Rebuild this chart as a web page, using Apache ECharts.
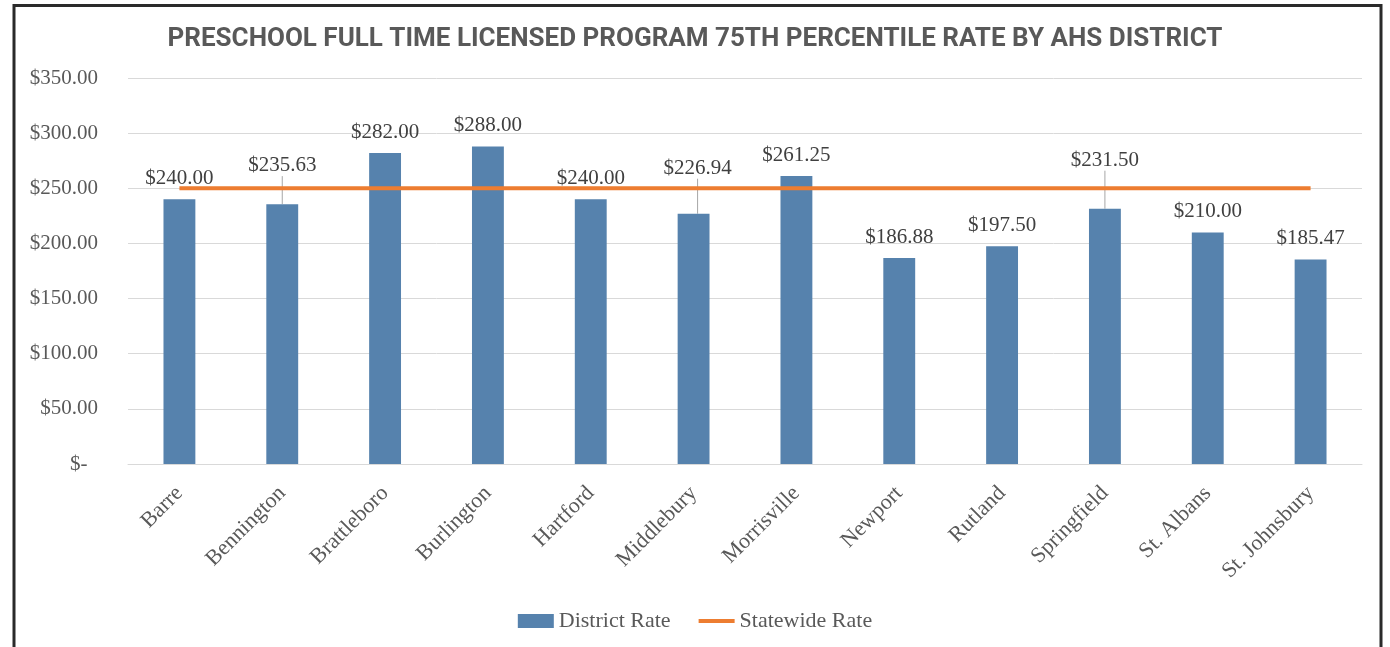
<!DOCTYPE html>
<html>
<head>
<meta charset="utf-8">
<script src="https://cdn.jsdelivr.net/npm/echarts@6/dist/echarts.min.js"></script>
<style>
html,body{margin:0;padding:0;background:#fff;}
#chart{width:1390px;height:647px;}
</style>
</head>
<body>
<div id="chart"></div>
<script>
var districts = ['Barre','Bennington','Brattleboro','Burlington','Hartford','Middlebury','Morrisville','Newport','Rutland','Springfield','St. Albans','St. Johnsbury'];
var districtRate = [240.00, 235.63, 282.00, 288.00, 240.00, 226.94, 261.25, 186.88, 197.50, 231.50, 210.00, 185.47];
var statewideRate = [250, 250, 250, 250, 250, 250, 250, 250, 250, 250, 250, 250];
var yTicks = [0, 350, 50]; // min, max, interval

// labels pulled up above the statewide line (index: [dx, dy])
var movedLabels = {1: [0, -18], 5: [4, -25], 9: [0, -28]};

var serif = '"Liberation Serif", "DejaVu Serif", serif';

var barData = districtRate.map(function (v, i) {
	if (movedLabels[i]) {
		return {value: v, labelLine: {show: true, lineStyle: {color: '#a6a6a6', width: 1}}};
	}
	return v;
});

var myChart = echarts.init(document.getElementById('chart'));
var option = {
	animation: false,
	title: {
		text: 'PRESCHOOL FULL TIME LICENSED PROGRAM 75TH PERCENTILE RATE BY AHS DISTRICT',
		left: 'center',
		top: 21,
		textStyle: {
			color: '#595959',
			fontSize: 26,
			fontWeight: 'bold',
			fontFamily: 'Roboto, "Liberation Sans", sans-serif'
		}
	},
	graphic: [{
		type: 'rect',
		shape: {x: 14, y: 5.5, width: 1367, height: 700},
		style: {fill: 'none', stroke: '#2a2a2a', lineWidth: 3},
		silent: true
	}],
	legend: {
		bottom: 10,
		left: 'center',
		itemGap: 28,
		itemWidth: 36,
		itemHeight: 14,
		textStyle: {color: '#595959', fontSize: 22, fontFamily: serif},
		data: [
			{name: 'District Rate', icon: 'rect'},
			{name: 'Statewide Rate', icon: 'path://M0,0 H36 V4 H0 Z'}
		]
	},
	grid: {left: 128, right: 28, top: 78, bottom: 183},
	xAxis: {
		type: 'category',
		data: districts,
		axisLine: {lineStyle: {color: '#d9d9d9'}},
		axisTick: {show: false},
		axisLabel: {
			rotate: 45,
			interval: 0,
			color: '#595959',
			fontSize: 22,
			fontFamily: serif,
			margin: 26
		}
	},
	yAxis: {
		type: 'value',
		min: yTicks[0],
		max: yTicks[1],
		interval: yTicks[2],
		axisLine: {show: false},
		axisTick: {show: false},
		splitLine: {lineStyle: {color: '#d9d9d9'}},
		axisLabel: {
			color: '#595959',
			fontSize: 21,
			fontFamily: serif,
			margin: 30,
			formatter: function (v) {
				return v === 0 ? '$-\u2002' : '$' + v.toFixed(2);
			}
		}
	},
	series: [
		{
			name: 'District Rate',
			type: 'bar',
			barWidth: '31%',
			data: barData,
			itemStyle: {color: '#5682ad'},
			label: {
				show: true,
				position: 'top',
				distance: 10,
				color: '#404040',
				fontSize: 21,
				fontFamily: serif,
				formatter: function (p) {
					return '$' + p.value.toFixed(2);
				}
			},
			labelLayout: function (params) {
				var m = movedLabels[params.dataIndex];
				if (m) {
					return {dx: m[0], dy: m[1]};
				}
				return {};
			}
		},
		{
			name: 'Statewide Rate',
			type: 'line',
			data: statewideRate,
			symbol: 'none',
			z: 3,
			lineStyle: {color: '#ed7d31', width: 4},
			itemStyle: {color: '#ed7d31'}
		}
	]
};
myChart.setOption(option);
</script>
</body>
</html>
